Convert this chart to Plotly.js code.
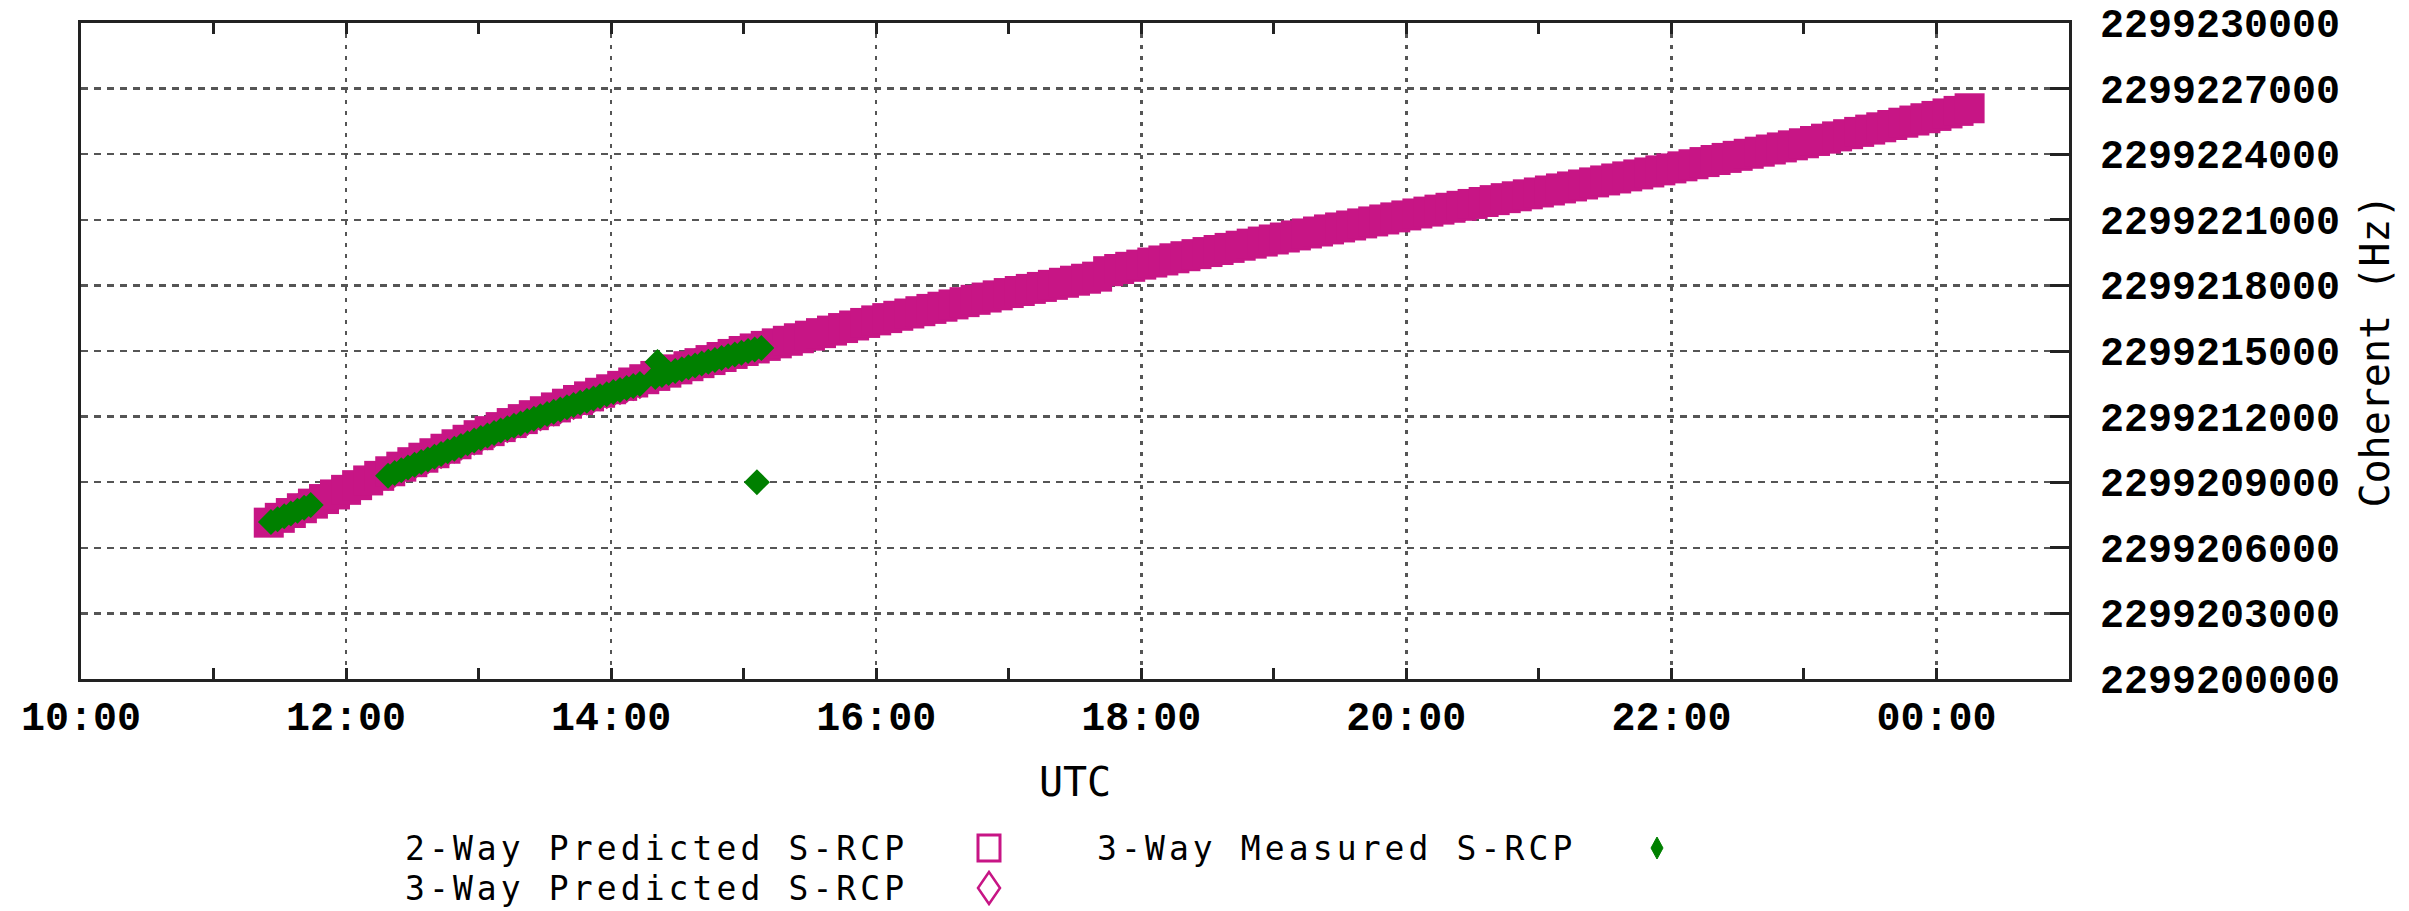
<!DOCTYPE html>
<html>
<head>
<meta charset="utf-8">
<script src="https://cdn.plot.ly/plotly-3.0.1.min.js"></script>
<style>
html,body{margin:0;padding:0;background:#fff;}
#chart{width:2409px;height:911px;}
#chart .annotation-text{letter-spacing:4.1px;}
</style>
</head>
<body>
<div id="chart"></div>
<script>
// ---------- DATA ----------
const seriesNames = ["2-Way Predicted S-RCP", "3-Way Predicted S-RCP", "3-Way Measured S-RCP"];

// 2-Way Predicted S-RCP (UTC time, coherent frequency in Hz)
const twoWayTimes = [
"11:25","11:30","11:35","11:40","11:45","11:50","11:55","12:00","12:05","12:10","12:15","12:20","12:25","12:30","12:35","12:40","12:45","12:50","12:55",
"13:00","13:05","13:10","13:15","13:20","13:25","13:30","13:35","13:40","13:45","13:50","13:55",
"14:00","14:05","14:10","14:15","14:20","14:25","14:30","14:35","14:40","14:45","14:50","14:55",
"15:00","15:05","15:10","15:15","15:20","15:25","15:30","15:35","15:40","15:45","15:50","15:55",
"16:00","16:05","16:10","16:15","16:20","16:25","16:30","16:35","16:40","16:45","16:50","16:55",
"17:00","17:05","17:10","17:15","17:20","17:25","17:30","17:35","17:40","17:45","17:50","17:55",
"18:00","18:05","18:10","18:15","18:20","18:25","18:30","18:35","18:40","18:45","18:50","18:55",
"19:00","19:05","19:10","19:15","19:20","19:25","19:30","19:35","19:40","19:45","19:50","19:55",
"20:00","20:05","20:10","20:15","20:20","20:25","20:30","20:35","20:40","20:45","20:50","20:55",
"21:00","21:05","21:10","21:15","21:20","21:25","21:30","21:35","21:40","21:45","21:50","21:55",
"22:00","22:05","22:10","22:15","22:20","22:25","22:30","22:35","22:40","22:45","22:50","22:55",
"23:00","23:05","23:10","23:15","23:20","23:25","23:30","23:35","23:40","23:45","23:50","23:55",
"00:00","00:05","00:10","00:15"];
const twoWayHz = [
2299207150,2299207370,2299207590,2299207810,2299208020,2299208230,2299208440,2299208650,2299208865,2299209080,2299209290,2299209500,2299209710,2299209915,2299210120,2299210325,2299210530,2299210735,2299210940,
2299211150,2299211335,2299211520,2299211705,2299211885,2299212065,2299212245,2299212420,2299212590,2299212760,2299212925,2299213090,
2299213250,2299213405,2299213560,2299213710,2299213860,2299214010,2299214160,2299214305,2299214445,2299214585,2299214725,2299214865,
2299215000,2299215117,2299215233,2299215350,2299215467,2299215583,2299215700,2299215817,2299215933,2299216050,2299216167,2299216283,
2299216400,2299216505,2299216610,2299216715,2299216820,2299216925,2299217025,2299217130,2299217235,2299217340,2299217445,2299217545,
2299217650,2299217745,2299217840,2299217930,2299218025,2299218120,2299218215,2299218305,2299218400,2299218650,2299218750,2299218850,
2299218950,2299219045,2299219140,2299219240,2299219335,2299219430,2299219525,2299219620,2299219715,2299219815,2299219910,2299220005,
2299220100,2299220190,2299220285,2299220375,2299220465,2299220560,2299220650,2299220740,2299220835,2299220925,2299221015,2299221110,
2299221200,2299221290,2299221375,2299221465,2299221550,2299221640,2299221725,2299221815,2299221900,2299221990,2299222075,2299222165,
2299222250,2299222340,2299222435,2299222525,2299222615,2299222710,2299222800,2299222890,2299222985,2299223075,2299223165,2299223260,
2299223350,2299223445,2299223540,2299223640,2299223735,2299223830,2299223925,2299224020,2299224115,2299224215,2299224310,2299224405,
2299224500,2299224605,2299224710,2299224815,2299224915,2299225020,2299225125,2299225230,2299225335,2299225440,2299225540,2299225645,
2299225750,2299225865,2299225980,2299226100];

// 3-Way Measured S-RCP
const threeWayMeasTimes = [
"11:26","11:29","11:32","11:35","11:38","11:41","11:44",
"12:19","12:22","12:25","12:28","12:31","12:34","12:37","12:40","12:43","12:46","12:49","12:52","12:55","12:58",
"13:01","13:04","13:07","13:10","13:13","13:16","13:19","13:22","13:25","13:28","13:31","13:34","13:37","13:40","13:43","13:46","13:49","13:52","13:55","13:58",
"14:01","14:04","14:07","14:10","14:13",
"14:20","14:21","14:23","14:26","14:29","14:32","14:35","14:38","14:41","14:44","14:47","14:50","14:53","14:56","14:59",
"15:02","15:05","15:06","15:08"];
const threeWayMeasHz = [
2299207180,2299207310,2299207440,2299207570,2299207700,2299207830,2299207960,
2299209300,2299209425,2299209550,2299209675,2299209795,2299209920,2299210040,2299210165,2299210290,2299210410,2299210535,2299210660,2299210780,2299210905,
2299211025,2299211140,2299211250,2299211360,2299211470,2299211580,2299211690,2299211795,2299211905,2299212015,2299212120,2299212225,2299212330,2299212430,2299212530,2299212635,2299212730,2299212830,2299212930,2299213025,
2299213120,2299213215,2299213305,2299213400,2299213490,
2299213810,2299214500,2299213900,2299213990,2299214080,2299214170,2299214255,2299214340,2299214425,2299214510,2299214590,2299214675,2299214760,2299214840,2299214925,
2299214995,2299215065,2299209000,2299215135];

// 3-Way Predicted S-RCP
const threeWayPredTimes = [
"11:26","11:29","11:32","11:35","11:38","11:41","11:44",
"12:19","12:22","12:25","12:28","12:31","12:34","12:37","12:40","12:43","12:46","12:49","12:52","12:55","12:58",
"13:01","13:04","13:07","13:10","13:13","13:16","13:19","13:22","13:25","13:28","13:31","13:34","13:37","13:40","13:43","13:46","13:49","13:52","13:55","13:58",
"14:01","14:04","14:07","14:10","14:13",
"14:20","14:23","14:26","14:29","14:32","14:35","14:38","14:41","14:44","14:47","14:50","14:53","14:56","14:59",
"15:02","15:05","15:08"];
const threeWayPredHz = [
2299207230,2299207360,2299207490,2299207620,2299207750,2299207880,2299208010,
2299209350,2299209475,2299209600,2299209725,2299209845,2299209970,2299210090,2299210215,2299210340,2299210460,2299210585,2299210710,2299210830,2299210955,
2299211075,2299211190,2299211300,2299211410,2299211520,2299211630,2299211740,2299211845,2299211955,2299212065,2299212170,2299212275,2299212380,2299212480,2299212580,2299212685,2299212780,2299212880,2299212980,2299213075,
2299213170,2299213265,2299213355,2299213450,2299213540,
2299213860,2299213950,2299214040,2299214130,2299214220,2299214305,2299214390,2299214475,2299214560,2299214640,2299214725,2299214810,2299214890,2299214975,
2299215045,2299215115,2299215185];

const yTickStart = 2299200000, yTickEnd = 2299230000, yTickStep = 3000;
const xRange = ["10:00", "01:00"];

// ---------- helpers ----------
function toDate(hm) {
  const h = parseInt(hm.split(":")[0], 10);
  return (h < 10 ? "2000-01-02 " : "2000-01-01 ") + hm;
}

const MAGENTA = "#C71585";
const GREEN = "#008000";

const traces = [
  {
    name: seriesNames[0], type: "scatter", mode: "markers",
    x: twoWayTimes.map(toDate), y: twoWayHz,
    marker: {symbol: "square", size: 30, color: MAGENTA, line: {width: 0}},
    showlegend: false
  },
  {
    name: seriesNames[1], type: "scatter", mode: "markers",
    x: threeWayPredTimes.map(toDate), y: threeWayPredHz,
    marker: {symbol: "diamond", size: 25, color: MAGENTA, line: {width: 0}},
    showlegend: false
  },
  {
    name: seriesNames[2], type: "scatter", mode: "markers",
    x: threeWayMeasTimes.map(toDate), y: threeWayMeasHz,
    marker: {symbol: "diamond", size: 20, color: GREEN, line: {width: 0}},
    showlegend: false
  }
];

// plot area in pixels
const W = 2409, H = 911;
const PL = 81, PR = 2069, PT = 23, PB = 679;
const px2x = p => (p - PL) / (PR - PL);
const px2y = p => (PB - p) / (PB - PT);

const legendFont = {family: "DejaVu Sans Mono, Liberation Mono, monospace", size: 33, color: "#000"};
const annotations = [
  {text: seriesNames[0], x: px2x(656), y: px2y(848)},
  {text: seriesNames[1], x: px2x(656), y: px2y(888)},
  {text: seriesNames[2], x: px2x(1336), y: px2y(848)}
].map(a => Object.assign(a, {xref: "paper", yref: "paper", xanchor: "center", yanchor: "middle",
                             showarrow: false, font: legendFont}));

const shapes = [
  {type: "rect", xref: "paper", yref: "paper", xsizemode: "pixel", ysizemode: "pixel",
   xanchor: px2x(989), yanchor: px2y(848), x0: -11, x1: 11, y0: -13, y1: 13,
   line: {color: MAGENTA, width: 3}, fillcolor: "rgba(0,0,0,0)"},
  {type: "path", xref: "paper", yref: "paper", xsizemode: "pixel", ysizemode: "pixel",
   xanchor: px2x(989), yanchor: px2y(888),
   path: "M -11 0 L 0 16 L 11 0 L 0 -16 Z",
   line: {color: MAGENTA, width: 2.5}, fillcolor: "rgba(0,0,0,0)"},
  {type: "path", xref: "paper", yref: "paper", xsizemode: "pixel", ysizemode: "pixel",
   xanchor: px2x(1657), yanchor: px2y(848),
   path: "M -6 0 L 0 11 L 6 0 L 0 -11 Z",
   line: {color: GREEN, width: 1}, fillcolor: GREEN}
];

const tickFont = {family: "Liberation Mono, DejaVu Sans Mono, monospace", size: 40, color: "#000", weight: 700};
const titleFont = {family: "DejaVu Sans Mono, Liberation Mono, monospace", size: 40, color: "#000"};

const layout = {
  width: W, height: H,
  paper_bgcolor: "#fff", plot_bgcolor: "#fff",
  margin: {l: PL, r: W - PR, t: PT, b: H - PB, autoexpand: false},
  showlegend: false,
  xaxis: {
    type: "date",
    range: xRange.map(toDate),
    tick0: toDate("10:00"), dtick: 7200000,
    tickformat: "%H:%M",
    ticks: "inside", ticklen: 11, tickwidth: 3, tickcolor: "#222",
    minor: {dtick: 3600000, ticks: "inside", ticklen: 11, tickwidth: 3, tickcolor: "#222", showgrid: false},
    showline: true, linewidth: 3, linecolor: "#222", mirror: "ticks",
    showgrid: true, gridcolor: "#555", gridwidth: 2.5, griddash: "4px,7px",
    zeroline: false,
    tickfont: tickFont, ticklabelstandoff: 0,
    automargin: false,
    title: {text: "UTC", font: titleFont, standoff: 27}
  },
  yaxis: {
    side: "right",
    range: [yTickStart, yTickEnd],
    tick0: yTickStart, dtick: yTickStep,
    tickformat: "d",
    ticks: "inside", ticklen: 19, tickwidth: 3, tickcolor: "#222",
    showline: true, linewidth: 3, linecolor: "#222", mirror: true,
    showgrid: true, gridcolor: "#555", gridwidth: 2.5, griddash: "7px,6px",
    zeroline: false,
    tickfont: tickFont, ticklabelstandoff: 20,
    automargin: false,
    title: {text: "Coherent (Hz)", font: titleFont, standoff: 22}
  },
  annotations: annotations,
  shapes: shapes
};

Plotly.newPlot("chart", traces, layout, {displayModeBar: false, staticPlot: true});
</script>
</body>
</html>
